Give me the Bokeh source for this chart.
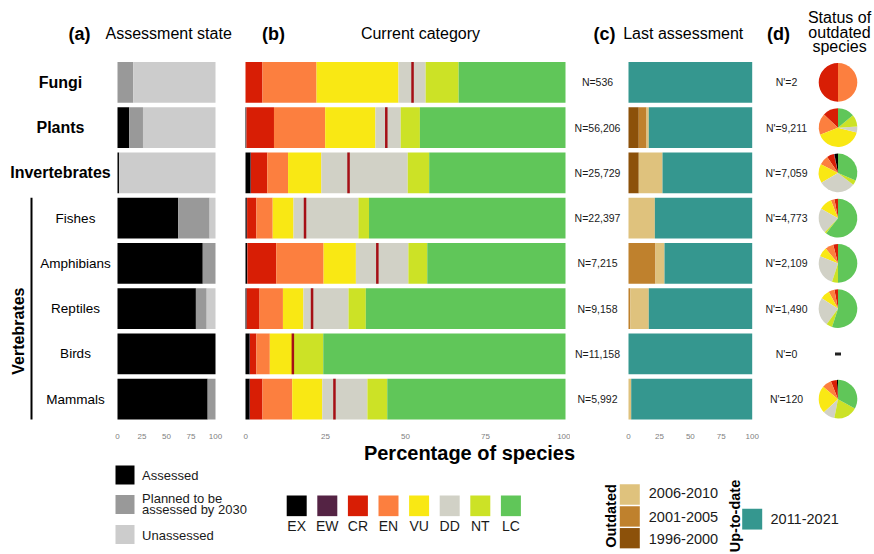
import numpy as np
from bokeh.plotting import figure
from bokeh.layouts import row, column
from bokeh.models import Range1d, FixedTicker, ColumnDataSource
from bokeh.core.properties import value
from bokeh.embed import file_html
from bokeh.resources import INLINE

# ---------------- data ----------------
groups = ["Fungi", "Plants", "Invertebrates", "Fishes", "Amphibians", "Reptiles", "Birds", "Mammals"]
higher_taxa = ["Fungi", "Plants", "Invertebrates"]

# (a) assessment state (% of species)
assessed = [0.0, 12.0, 1.5, 62.0, 87.0, 80.0, 100.0, 92.0]
planned = [16.0, 14.0, 0.5, 32.0, 13.0, 11.0, 0.0, 8.0]
unassessed = [84.0, 74.0, 98.0, 6.0, 0.0, 9.0, 0.0, 0.0]
state_colors = ["#000000", "#999999", "#cccccc"]

# (b) current IUCN category (% of species)
iucn_labels = ["EX", "EW", "CR", "EN", "VU", "DD", "NT", "LC"]
iucn_colors = ["#000000", "#542344", "#d81e05", "#fc7f3f", "#f9e814", "#d1d1c6", "#cce226", "#60c659"]
cur_EX = [0.0, 0.2, 1.6, 0.4, 0.5, 0.3, 1.3, 1.3]
cur_EW = [0.0, 0.1, 0.1, 0.1, 0.1, 0.1, 0.1, 0.1]
cur_CR = [5.3, 8.6, 5.1, 2.9, 9.0, 4.0, 2.0, 3.9]
cur_EN = [16.9, 16.0, 6.5, 5.1, 14.8, 7.3, 4.2, 9.3]
cur_VU = [25.6, 15.7, 10.4, 6.5, 10.1, 6.4, 7.0, 9.4]
cur_DD = [8.5, 7.9, 27.0, 20.3, 16.4, 14.1, 0.5, 14.1]
cur_NT = [10.3, 6.0, 6.7, 3.3, 5.9, 5.4, 9.2, 6.2]
cur_LC = [33.4, 45.5, 42.6, 61.4, 43.2, 62.4, 75.7, 55.7]
threat_marker = [52.2, 44.0, 32.2, 18.6, 41.2, 20.8, 14.8, 27.8]
n_species = [536, 56206, 25729, 22397, 7215, 9158, 11158, 5992]

# (c) last assessment (% of species)
period_labels = ["1996-2000", "2001-2005", "2006-2010", "2011-2021"]
period_colors = ["#8c510a", "#bf812d", "#dfc27d", "#35978f"]
last_1996 = [0.0, 8.3, 8.3, 0.0, 0.0, 0.0, 0.0, 0.0]
last_2001 = [0.0, 6.3, 0.0, 0.0, 21.8, 1.5, 0.0, 0.0]
last_2006 = [0.0, 1.8, 19.2, 21.3, 7.3, 14.9, 0.0, 2.2]
last_2011 = [100.0, 83.6, 72.5, 78.7, 70.9, 83.6, 100.0, 97.8]

# (d) status of outdated species (% of outdated species)
n_outdated = [2, 9211, 7059, 4773, 2109, 1490, 0, 120]
out_EX = [0, 0, 3, 0, 0, 0, 0, 1]
out_EW = [0, 0, 0.5, 0, 0, 0, 0, 0]
out_CR = [50, 13, 6, 3, 4, 3, 0, 5]
out_EN = [50, 18, 8, 3, 7, 5, 0, 8]
out_VU = [0, 40, 16, 11, 8, 8, 0, 23]
out_DD = [0, 5, 31, 21, 26, 24, 0, 10]
out_NT = [0, 10, 4, 1.5, 5, 5, 0, 20]
out_LC = [0, 14, 31.5, 60.5, 50, 55, 0, 33]

# ---------------- layout helpers ----------------
FONT = value("Liberation Sans")
ROW0, PITCH = 82.5, 45.57          # page px of first row centre, row pitch
FRAME_TOP, FRAME_BOT, BOT_BORDER = 0, 426, 15


def ry(py):
    return (py - ROW0) / PITCH


rows = list(range(len(groups)))


def make_fig(x0, x1, zero_px, ppu, axis=True):
    p = figure(width=x1 - x0, height=FRAME_BOT - FRAME_TOP + BOT_BORDER,
               x_range=Range1d((x0 - zero_px) / ppu, (x1 - zero_px) / ppu),
               y_range=Range1d(ry(FRAME_BOT), ry(FRAME_TOP)),
               output_backend="svg", toolbar_location=None,
               min_border_left=0, min_border_right=0, min_border_top=0,
               min_border_bottom=BOT_BORDER, y_axis_location=None,
               x_axis_location="below" if axis else None)
    p.grid.visible = False
    p.outline_line_color = None
    p.background_fill_color = "white"
    p.border_fill_color = "white"
    if axis:
        p.xaxis.ticker = FixedTicker(ticks=[0, 25, 50, 75, 100])
        p.xaxis.axis_line_color = None
        p.xaxis.major_tick_line_color = None
        p.xaxis.minor_tick_line_color = None
        p.xaxis.major_label_text_font = "Liberation Sans"
        p.xaxis.major_label_text_font_size = "8px"
        p.xaxis.major_label_text_color = "#808080"
        p.xaxis.major_label_standoff = 4
    fx = lambda px: (px - zero_px) / ppu
    return p, fx


def txt(p, xs, ys, texts, size, bold=False, align="center", angle=0.0, color="#000000"):
    p.text(x=xs, y=ys, text=texts, text_font=FONT, text_font_size=size,
           text_font_style="bold" if bold else "normal", text_align=align,
           text_baseline="middle", angle=angle, text_color=color)


BAR_H = 0.9

# ---------------- (a) ----------------
pa, fa = make_fig(0, 243, 117, 0.98)
src_a = ColumnDataSource(dict(y=rows, assessed=assessed, planned=planned, unassessed=unassessed))
pa.hbar_stack(["assessed", "planned", "unassessed"], y="y", height=BAR_H,
              fill_color=state_colors, line_color=None, source=src_a)
bold_rows = [i for i, g in enumerate(groups) if g in higher_taxa]
norm_rows = [i for i, g in enumerate(groups) if g not in higher_taxa]
txt(pa, [fa(60)] * len(bold_rows), bold_rows, [groups[i] for i in bold_rows], "16px", bold=True)
txt(pa, [fa(75)] * len(norm_rows), norm_rows, [groups[i] for i in norm_rows], "13.5px")
txt(pa, [fa(18)], [ry(333)], ["Vertebrates"], "16px", bold=True, angle=np.pi / 2)
pa.segment(x0=[fa(31)], x1=[fa(31)], y0=[norm_rows[0] - 0.45], y1=[norm_rows[-1] + 0.45],
           line_width=2, line_color="#000000")
txt(pa, [fa(79)], [ry(33.3)], ["(a)"], "18px", bold=True)
txt(pa, [fa(105)], [ry(33.3)], ["Assessment state"], "16px", align="left")

# ---------------- (b) ----------------
pb, fb = make_fig(243, 570, 245, 3.2)
src_b = ColumnDataSource(dict(y=rows, EX=cur_EX, EW=cur_EW, CR=cur_CR, EN=cur_EN,
                              VU=cur_VU, DD=cur_DD, NT=cur_NT, LC=cur_LC))
pb.hbar_stack(iucn_labels, y="y", height=BAR_H, fill_color=iucn_colors, line_color=None, source=src_b)
pb.segment(x0=threat_marker, x1=threat_marker, y0=[r - 0.45 for r in rows], y1=[r + 0.45 for r in rows],
           line_width=2.5, line_color="#a50f15")
txt(pb, [fb(273)], [ry(33.3)], ["(b)"], "18px", bold=True)
txt(pb, [fb(420)], [ry(33.3)], ["Current category"], "16px")

# ---------------- (c) ----------------
pc, fc = make_fig(570, 760, 628, 1.237)
src_c = ColumnDataSource(dict(y=rows, p1=last_1996, p2=last_2001, p3=last_2006, p4=last_2011))
pc.hbar_stack(["p1", "p2", "p3", "p4"], y="y", height=BAR_H, fill_color=period_colors,
              line_color=None, source=src_c)
txt(pc, [fc(597)] * len(rows), rows, [f"N={n:,}" for n in n_species], "10.5px", color="#1a1a1a")
txt(pc, [fc(604)], [ry(33.3)], ["(c)"], "18px", bold=True)
txt(pc, [fc(622.7)], [ry(33.3)], ["Last assessment"], "16px", align="left")

# ---------------- (d) ----------------
pd_, fd = make_fig(760, 872, 0, 1.0, axis=False)
pie_cols = [out_EX, out_EW, out_CR, out_EN, out_VU, out_DD, out_NT, out_LC]
wx, wy, ws, we, wc = [], [], [], [], []
dash_rows = []
for i in rows:
    vals = np.array([c[i] for c in pie_cols], dtype=float)
    if n_outdated[i] == 0 or vals.sum() == 0:
        dash_rows.append(i)
        continue
    cum = np.concatenate([[0.0], np.cumsum(vals)]) / vals.sum()
    for k in range(len(vals)):
        if vals[k] <= 0:
            continue
        wx.append(fd(837.5)); wy.append(i)
        ws.append(np.pi / 2 + 2 * np.pi * cum[k]); we.append(np.pi / 2 + 2 * np.pi * cum[k + 1])
        wc.append(iucn_colors[k])
pd_.wedge(x="x", y="y", radius=19.3, radius_units="screen", start_angle="s", end_angle="e",
          fill_color="c", line_color=None,
          source=ColumnDataSource(dict(x=wx, y=wy, s=ws, e=we, c=wc)))
pd_.rect(x=[fd(837.5)] * len(dash_rows), y=dash_rows, width=6, height=3,
         width_units="screen", height_units="screen", fill_color="#222222", line_color=None)
txt(pd_, [fd(786)] * len(rows), rows, [f"N'={n:,}" for n in n_outdated], "10.5px", color="#1a1a1a")
txt(pd_, [fd(778)], [ry(33.3)], ["(d)"], "18px", bold=True)
txt(pd_, [fd(839)] * 3, [ry(16.7), ry(32.3), ry(46.7)], ["Status of", "outdated", "species"], "16px")

# ---------------- bottom: axis title + legends (page-pixel coordinates) ----------------
BT0, BT1 = FRAME_BOT + BOT_BORDER, 552
pl = figure(width=872, height=BT1 - BT0, x_range=Range1d(0, 872), y_range=Range1d(BT1, BT0),
            output_backend="svg", toolbar_location=None, min_border=0,
            x_axis_location=None, y_axis_location=None)
pl.grid.visible = False
pl.outline_line_color = None
pl.border_fill_color = "white"

txt(pl, [469], [452.5], ["Percentage of species"], "20px", bold=True)

# assessment-state legend
pl.rect(x=[124.5] * 3, y=[474.5, 504, 534], width=19, height=19, fill_color=state_colors, line_color=None)
txt(pl, [141.6] * 4, [475, 498.3, 509.3, 535],
    ["Assessed", "Planned to be", "assessed by 2030", "Unassessed"], "13px", align="left", color="#1a1a1a")

# IUCN legend
lx = [296.2 + 30.6 * k for k in range(len(iucn_labels))]
pl.rect(x=lx, y=[505.3] * len(lx), width=20, height=20.7, fill_color=iucn_colors, line_color=None)
txt(pl, lx, [525.5] * len(lx), iucn_labels, "14px", color="#1a1a1a")

# last-assessment legend
txt(pl, [610], [515.5], ["Outdated"], "14.5px", bold=True, angle=np.pi / 2)
pl.rect(x=[629.3] * 3, y=[494, 516, 537.7], width=20, height=20.3,
        fill_color=[period_colors[2], period_colors[1], period_colors[0]], line_color=None)
txt(pl, [648.3] * 3, [492.7, 516, 538.3], [period_labels[2], period_labels[1], period_labels[0]],
    "14.5px", align="left", color="#1a1a1a")
txt(pl, [734], [515.5], ["Up-to-date"], "14.5px", bold=True, angle=np.pi / 2)
pl.rect(x=[751.7], y=[518.7], width=20, height=20.7, fill_color=[period_colors[3]], line_color=None)
txt(pl, [770], [518.3], [period_labels[3]], "14.5px", align="left", color="#1a1a1a")

layout = column(row(pa, pb, pc, pd_), pl)
open("out.html", "w").write(file_html(layout, INLINE))
